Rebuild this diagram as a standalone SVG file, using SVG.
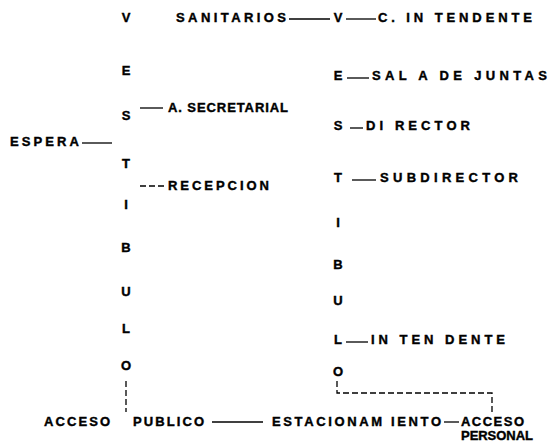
<svg xmlns="http://www.w3.org/2000/svg" width="559" height="446" viewBox="0 0 559 446">
<style>
text{font-family:"Liberation Sans",Arial,sans-serif;font-weight:bold;font-size:13px;fill:#000;stroke:#000;stroke-width:0.4}
.l{text-anchor:middle}
.c line,.c polyline{stroke:#000;stroke-width:1.3;fill:none}
.d{stroke-dasharray:6 3}
</style>
<rect width="559" height="446" fill="#fff"/>
<g id="vestibulo-publico">
<text class="l" x="126" y="22">V</text>
<text class="l" x="126" y="75">E</text>
<text class="l" x="126" y="120">S</text>
<text class="l" x="126" y="168">T</text>
<text class="l" x="126" y="209">I</text>
<text class="l" x="126" y="252">B</text>
<text class="l" x="126" y="296">U</text>
<text class="l" x="126" y="333">L</text>
<text class="l" x="126" y="370">O</text>
</g>
<g id="vestibulo-personal">
<text class="l" x="338" y="22">V</text>
<text class="l" x="338" y="80">E</text>
<text class="l" x="338" y="130">S</text>
<text class="l" x="338" y="182">T</text>
<text class="l" x="338" y="227">I</text>
<text class="l" x="338" y="269">B</text>
<text class="l" x="338" y="305">U</text>
<text class="l" x="338" y="344">L</text>
<text class="l" x="338" y="376">O</text>
</g>
<g id="sanitarios"><text x="176" y="22" textLength="110" lengthAdjust="spacing">SANITARIOS</text></g>
<g id="c-intendente"><text x="378" y="22" textLength="154" lengthAdjust="spacing">C. IN TENDENTE</text></g>
<g id="sala-juntas"><text x="372" y="80" textLength="175" lengthAdjust="spacing">SAL A DE JUNTAS</text></g>
<g id="secretarial"><text x="168" y="112" textLength="120" lengthAdjust="spacing">A. SECRETARIAL</text></g>
<g id="espera"><text x="10" y="146" textLength="69" lengthAdjust="spacing">ESPERA</text></g>
<g id="director"><text x="366" y="130" textLength="104" lengthAdjust="spacing">DI RECTOR</text></g>
<g id="recepcion"><text x="168" y="190" textLength="101" lengthAdjust="spacing">RECEPCION</text></g>
<g id="subdirector"><text x="380" y="182" textLength="138" lengthAdjust="spacing">SUBDIRECTOR</text></g>
<g id="intendente"><text x="371" y="344" textLength="134" lengthAdjust="spacing">IN TEN DENTE</text></g>
<g id="acceso-publico"><text x="44" y="426" textLength="66" lengthAdjust="spacing">ACCESO</text><text x="133" y="426" textLength="71" lengthAdjust="spacing">PUBLICO</text></g>
<g id="estacionamiento"><text x="272" y="426" textLength="169" lengthAdjust="spacing">ESTACIONAM IENTO</text></g>
<g id="acceso-personal"><text x="461" y="426" textLength="63" lengthAdjust="spacing">ACCESO</text><text x="461" y="440" textLength="72" lengthAdjust="spacing">PERSONAL</text></g>
<g class="c" id="connectors">
<line x1="289" y1="19" x2="330" y2="19"/>
<line x1="346" y1="19" x2="376" y2="19"/>
<line x1="347" y1="78" x2="369" y2="78"/>
<line x1="140" y1="108" x2="163" y2="108"/>
<line x1="82" y1="143" x2="112" y2="143"/>
<line x1="350" y1="128" x2="363" y2="128"/>
<line class="d" x1="140" y1="186" x2="165" y2="186"/>
<line x1="352" y1="180" x2="376" y2="180"/>
<line x1="346" y1="342" x2="368" y2="342"/>
<line class="d" x1="126" y1="381" x2="126" y2="412"/>
<line x1="212" y1="422" x2="263" y2="422"/>
<line x1="444" y1="422" x2="459" y2="422"/>
<polyline class="d" points="337,381 337,393 492,393 492,414"/>
</g>
</svg>
